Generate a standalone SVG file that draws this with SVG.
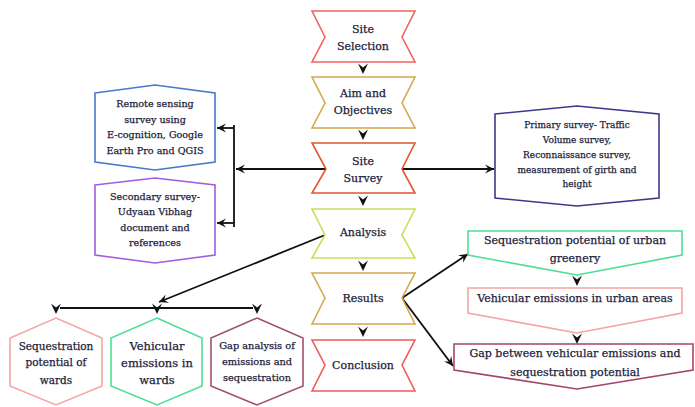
<svg xmlns="http://www.w3.org/2000/svg" width="695" height="407" viewBox="0 0 695 407">
<defs>
<style>
.n{fill:#fff;stroke-width:1.6}
.t{font-family:"DejaVu Serif","Liberation Serif",serif;fill:#1c1c3a;stroke:#1c1c3a;stroke-width:0.25;text-anchor:middle}
.m{font-size:11px}
.s{font-size:9.6px}
.c{stroke:#111;stroke-width:1.8;fill:none}
</style>
<path id="ah" d="M0,0 L-5,-10.5 L0,-6.5 L5,-10.5 Z" fill="#111"/>
<marker id="arr" markerWidth="12" markerHeight="12" refX="0" refY="0" viewBox="-10 -6 12 12" orient="auto" markerUnits="userSpaceOnUse">
<path d="M0,0 L-9,-4.5 L-5.5,0 L-9,4.5 Z" fill="#111"/>
</marker>
</defs>

<g id="connectors">
<use href="#ah" x="363" y="74"/>
<use href="#ah" x="363" y="140"/>
<use href="#ah" x="363" y="206"/>
<use href="#ah" x="363" y="271"/>
<use href="#ah" x="363" y="337"/>
<line class="c" x1="326" y1="169" x2="236" y2="169" marker-end="url(#arr)"/>
<line class="c" x1="234" y1="125" x2="234" y2="227"/>
<line class="c" x1="234" y1="128" x2="217" y2="128" marker-end="url(#arr)"/>
<line class="c" x1="234" y1="223" x2="217" y2="223" marker-end="url(#arr)"/>
<line class="c" x1="402" y1="169" x2="494" y2="169" marker-end="url(#arr)"/>
<line class="c" x1="325" y1="235" x2="159" y2="302" marker-end="url(#arr)"/>
<line class="c" x1="60" y1="308" x2="253" y2="308"/>
<use href="#ah" x="56" y="314"/>
<use href="#ah" x="157" y="314"/>
<use href="#ah" x="257" y="314"/>
<line class="c" x1="402" y1="298" x2="468" y2="254" marker-end="url(#arr)"/>
<line class="c" x1="402" y1="298" x2="453" y2="366" marker-end="url(#arr)"/>
<use href="#ah" x="577" y="286"/>
<use href="#ah" x="577" y="344"/>
</g>

<g id="site-selection">
<polygon class="n" stroke="#f26262" points="312,11 415,11 402,37 415,62 312,62 325,37"/>
<text class="t m" x="363" y="33">Site</text>
<text class="t m" x="363" y="50">Selection</text>
</g>
<g id="aim-objectives">
<polygon class="n" stroke="#d4a84e" points="312,77 415,77 402,103 415,128 312,128 325,103"/>
<text class="t m" x="363" y="97">Aim and</text>
<text class="t m" x="363" y="114">Objectives</text>
</g>
<g id="site-survey">
<polygon class="n" stroke="#e0572f" points="312,143 415,143 402,169 415,193 312,193 326,169"/>
<text class="t m" x="363" y="165">Site</text>
<text class="t m" x="363" y="182">Survey</text>
</g>
<g id="analysis">
<polygon class="n" stroke="#c6e05a" points="312,209 415,209 402,235 415,258 312,258 325,235"/>
<text class="t m" x="363" y="236">Analysis</text>
</g>
<g id="results">
<polygon class="n" stroke="#d4a84e" points="312,273 415,273 402,298 415,324 312,324 325,298"/>
<text class="t m" x="363" y="302">Results</text>
</g>
<g id="conclusion">
<polygon class="n" stroke="#f25a5a" points="312,340 415,340 402,365 415,391 312,391 325,365"/>
<text class="t m" x="363" y="369">Conclusion</text>
</g>

<g id="remote-sensing">
<polygon class="n" stroke="#4a78c8" points="95,93 155,85 215,93 215,162 155,170 95,162"/>
<text class="t s" x="155" y="107">Remote sensing</text>
<text class="t s" x="155" y="123">survey using</text>
<text class="t s" x="155" y="138">E-cognition, Google</text>
<text class="t s" x="155" y="154">Earth Pro and QGIS</text>
</g>
<g id="secondary-survey">
<polygon class="n" stroke="#a45be4" points="95,185 155,178 215,185 215,255 155,263 95,255"/>
<text class="t s" x="155" y="200">Secondary survey-</text>
<text class="t s" x="155" y="215">Udyaan Vibhag</text>
<text class="t s" x="155" y="231">document and</text>
<text class="t s" x="155" y="246">references</text>
</g>
<g id="primary-survey">
<polygon class="n" stroke="#3a3a8c" points="495,114 577,106 659,114 659,198 577,206 495,198"/>
<text class="t" font-size="9" x="577" y="128">Primary survey- Traffic</text>
<text class="t" font-size="9" x="577" y="143">Volume survey,</text>
<text class="t" font-size="9" x="577" y="158">Reconnaissance survey,</text>
<text class="t" font-size="9" x="577" y="173">measurement of girth and</text>
<text class="t" font-size="9" x="577" y="187">height</text>
</g>

<g id="seq-urban">
<polygon class="n" stroke="#4ddf96" points="468,231 682,231 682,255 577,275 468,255"/>
<text class="t m" x="575" y="244">Sequestration potential of urban</text>
<text class="t m" x="575" y="262">greenery</text>
</g>
<g id="veh-urban">
<polygon class="n" stroke="#f5a3a3" points="468,288 682,288 682,313 577,333 468,313"/>
<text class="t m" x="575" y="302">Vehicular emissions in urban areas</text>
</g>
<g id="gap-urban">
<polygon class="n" stroke="#a3466c" points="454,344 693,344 693,370 577,389 454,370"/>
<text class="t m" x="575" y="357">Gap between vehicular emissions and</text>
<text class="t m" x="575" y="376">sequestration potential</text>
</g>

<g id="seq-wards">
<polygon class="n" stroke="#f7a6a6" points="56,318 102,338 102,386 56,405 10,386 10,338"/>
<text class="t" font-size="10.5" x="56" y="350">Sequestration</text>
<text class="t" font-size="10.5" x="56" y="366">potential of</text>
<text class="t" font-size="10.5" x="56" y="384">wards</text>
</g>
<g id="veh-wards">
<polygon class="n" stroke="#4ddf96" points="157,318 202,338 202,386 157,405 111,386 111,338"/>
<text class="t" font-size="11.5" x="157" y="350">Vehicular</text>
<text class="t" font-size="11.5" x="157" y="367">emissions in</text>
<text class="t" font-size="11.5" x="157" y="384">wards</text>
</g>
<g id="gap-wards">
<polygon class="n" stroke="#a3506e" points="257,318 303,338 303,386 257,405 211,386 211,338"/>
<text class="t" font-size="9.8" x="257" y="349">Gap analysis of</text>
<text class="t" font-size="9.8" x="257" y="365">emissions and</text>
<text class="t" font-size="9.8" x="257" y="381">sequestration</text>
</g>
</svg>
